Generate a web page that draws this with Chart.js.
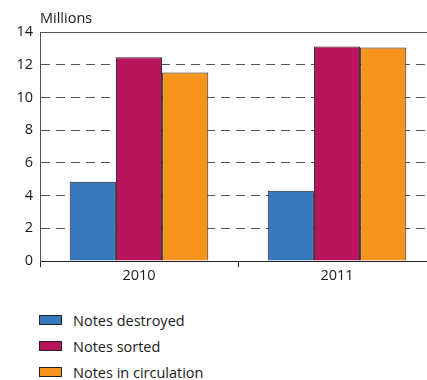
<!DOCTYPE html>
<html lang="en">
<head>
<meta charset="UTF-8"/>
<title>Notes</title>
<style>
  body { margin: 0; background: #fff; overflow: hidden; font-family: 'Open Sans', sans-serif; color: #1a1a1a; }
  #wrap { position: relative; width: 436px; height: 289px; }
  #legend { position: absolute; left: 39px; top: 307px; }
  .item { height: 26px; display: flex; align-items: center; font-size: 14.5px; }
  .sw { width: 21px; height: 8px; border: 1px solid #222; margin-right: 11px; }
</style>
</head>
<body>
<div id="wrap"><canvas id="chart" width="436" height="289"></canvas></div>
<div id="legend"></div>
<script src="https://cdn.jsdelivr.net/npm/chart.js"></script>
<script>
const years = ["2010", "2011"];
const notesDestroyed = [4.85, 4.29];
const notesSorted = [12.46, 13.11];
const notesInCirculation = [11.52, 13.05];
const seriesNames = ["Notes destroyed", "Notes sorted", "Notes in circulation"];
const seriesColors = ["#3777bc", "#b9155d", "#f7941e"];
const yTicks = [0, 2, 4, 6, 8, 10, 12, 14];

const seriesData = [notesDestroyed, notesSorted, notesInCirculation];

// "Millions" over the y axis + solid top line
const extras = {
  id: "extras",
  afterDraw(chart) {
    const { ctx, chartArea } = chart;
    ctx.save();
    ctx.strokeStyle = "#555";
    ctx.lineWidth = 1;
    ctx.beginPath();
    ctx.moveTo(chartArea.left, chartArea.top + 0.5);
    ctx.lineTo(chartArea.right, chartArea.top + 0.5);
    ctx.stroke();
    ctx.fillStyle = "#1a1a1a";
    ctx.font = "14.5px 'Open Sans'";
    ctx.textBaseline = "alphabetic";
    ctx.fillText("Millions", 40, 23);
    ctx.restore();
  }
};

new Chart(document.getElementById("chart"), {
  type: "bar",
  data: {
    labels: years,
    datasets: seriesData.map((d, i) => ({
      label: seriesNames[i],
      data: d,
      backgroundColor: seriesColors[i],
      borderColor: "#222",
      borderWidth: 1,
      borderSkipped: "bottom",
      categoryPercentage: 0.7,
      barPercentage: 1
    }))
  },
  options: {
    responsive: false,
    animation: false,
    layout: { padding: { top: 32, right: 0, left: 0, bottom: 0 } },
    plugins: { legend: { display: false }, tooltip: { enabled: false } },
    scales: {
      x: {
        offset: true,
        grid: { display: true, drawOnChartArea: false, drawTicks: true, tickLength: 6, color: "#222", offset: true },
        border: { color: "#222", width: 1 },
        ticks: { color: "#1a1a1a", font: { family: "'Open Sans'", size: 14.5 }, padding: 0 },
        afterFit: s => { s.height = 28; }
      },
      y: {
        min: 0,
        max: 14,
        afterBuildTicks: s => { s.ticks = yTicks.map(v => ({ value: v })); },
        grid: {
          drawTicks: false,
          color: c => (c.tick.value === 0 || c.tick.value === 14) ? "rgba(0,0,0,0)" : "#555",
          lineWidth: 1
        },
        border: { color: "#555", width: 1, dash: [9, 6] },
        ticks: { color: "#1a1a1a", font: { family: "'Open Sans'", size: 14.5 }, padding: 7 },
        afterFit: s => { s.width = 40; }
      }
    }
  },
  plugins: [extras]
});

const legend = document.getElementById("legend");
seriesNames.forEach((name, i) => {
  const row = document.createElement("div");
  row.className = "item";
  row.innerHTML = `<span class="sw" style="background:${seriesColors[i]}"></span>${name}`;
  legend.appendChild(row);
});
</script>
</body>
</html>
